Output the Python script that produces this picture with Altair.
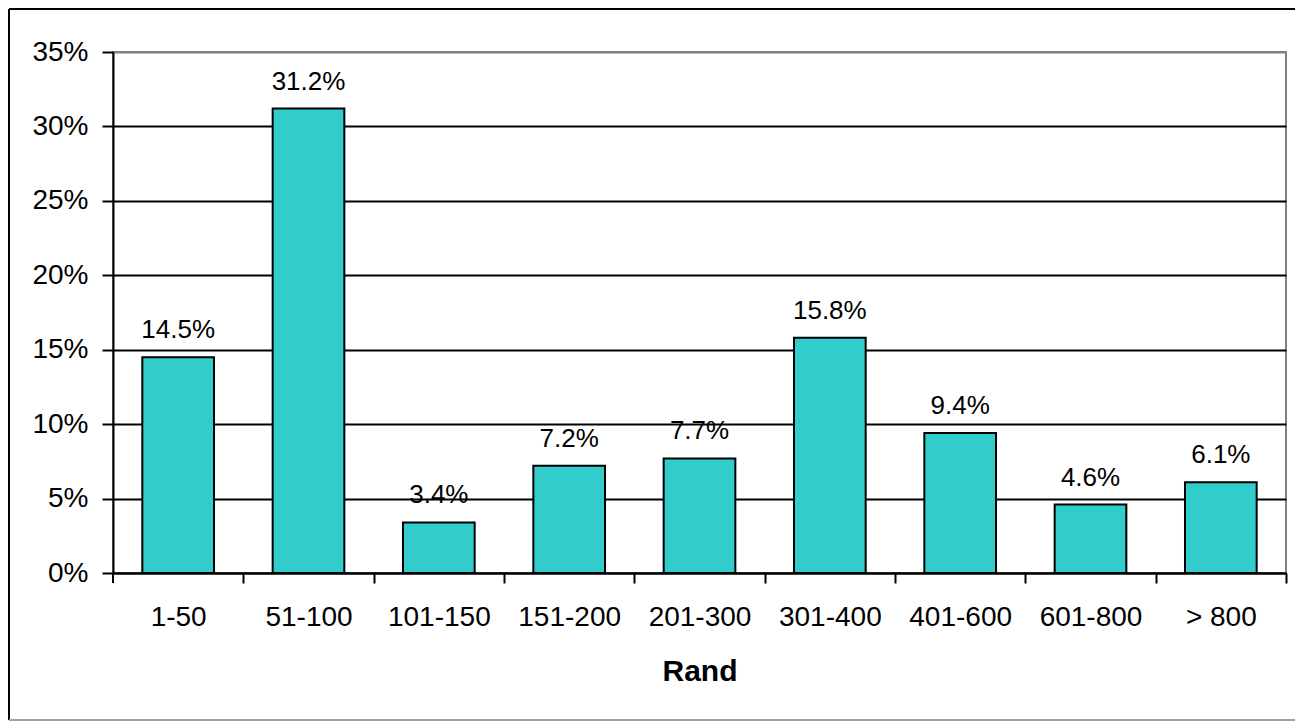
import altair as alt
import pandas as pd

categories = ["1-50", "51-100", "101-150", "151-200", "201-300", "301-400", "401-600", "601-800", "> 800"]
shares = [0.145, 0.312, 0.034, 0.072, 0.077, 0.158, 0.094, 0.046, 0.061]
labels = ["14.5%", "31.2%", "3.4%", "7.2%", "7.7%", "15.8%", "9.4%", "4.6%", "6.1%"]
y_ticks = [0, 0.05, 0.10, 0.15, 0.20, 0.25, 0.30, 0.35]

df = pd.DataFrame({"Rand": categories, "share": shares, "label": labels})

FONT = "Liberation Sans"
W, H = 1173, 521
STEP = W / len(categories)

x_enc = alt.X(
    "Rand:N",
    sort=categories,
    scale=alt.Scale(paddingInner=0.45, paddingOuter=0.225),
    axis=alt.Axis(
        title="Rand",
        labelAngle=0,
        tickOffset=STEP / 2,
        labelOffset=-STEP / 2,
        grid=False,
        domainColor="black",
        domainWidth=2,
        tickColor="black",
        tickWidth=2,
        tickSize=10,
        labelFont=FONT,
        labelFontSize=28,
        labelColor="black",
        labelPadding=20,
        titleFont=FONT,
        titleFontSize=30,
        titleFontWeight="bold",
        titleColor="black",
        titlePadding=25,
    ),
)

y_enc = alt.Y(
    "share:Q",
    scale=alt.Scale(domain=[0, 0.35], nice=False),
    axis=alt.Axis(
        title=None,
        values=y_ticks,
        format=".0%",
        grid=True,
        gridColor={"condition": {"test": "datum.value >= 0.349", "value": "#808080"}, "value": "black"},
        gridWidth=2,
        domainColor="black",
        domainWidth=2,
        tickColor="black",
        tickWidth=2,
        tickSize=11,
        labelFont=FONT,
        labelFontSize=28,
        labelColor="black",
        labelPadding=14,
    ),
)

base = alt.Chart(df)

bars = base.mark_bar(color="#33CCCC", stroke="black", strokeWidth=2).encode(x=x_enc, y=y_enc)

text = base.mark_text(baseline="alphabetic", dy=-19, fontSize=26, font=FONT, color="black").encode(
    x=alt.X("Rand:N", sort=categories), y="share:Q", text="label:N"
)

one = alt.Chart(pd.DataFrame({"k": [0]}))
first_tick = one.mark_rule(color="black", strokeWidth=2).encode(
    x=alt.value(0), y=alt.value(H), y2=alt.value(H + 10)
)
frame_left = one.mark_rule(color="black", strokeWidth=2).encode(
    x=alt.value(-104), y=alt.value(-43), y2=alt.value(668)
)
frame_top = one.mark_rule(color="black", strokeWidth=2).encode(
    x=alt.value(-104), x2=alt.value(1187), y=alt.value(-43)
)
frame_right = one.mark_rule(color="#a0a0a0", strokeWidth=2).encode(
    x=alt.value(1187), y=alt.value(-43), y2=alt.value(668)
)
frame_bottom = one.mark_rule(color="#a0a0a0", strokeWidth=2).encode(
    x=alt.value(-104), x2=alt.value(1187), y=alt.value(668)
)

chart = (
    alt.layer(bars, text, first_tick, frame_left, frame_top, frame_right, frame_bottom)
    .properties(
        width=W,
        height=H,
        autosize=alt.AutoSizeParams(type="none"),
        padding={"left": 105, "top": 44, "right": 9, "bottom": 149},
        background="white",
    )
    .configure_view(stroke="#808080", strokeWidth=2)
)

chart.save("out.html", embed_options={"renderer": "svg", "actions": False})
